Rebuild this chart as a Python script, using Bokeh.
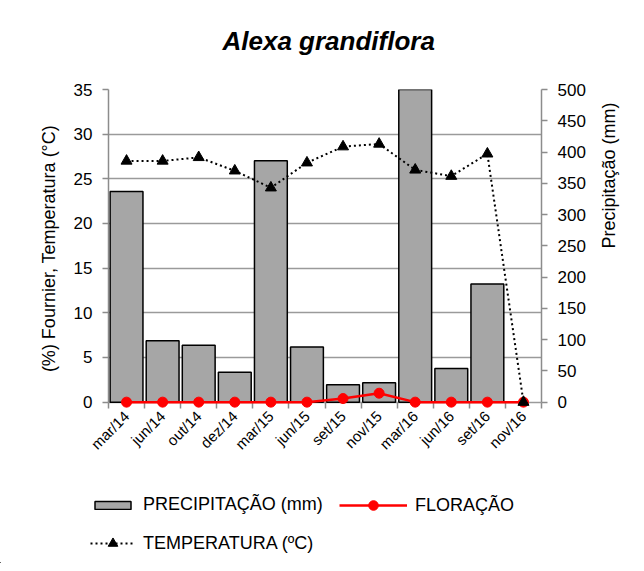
import math
from bokeh.plotting import figure
from bokeh.layouts import column
from bokeh.models import (ColumnDataSource, Range1d, LinearAxis, FixedTicker,
                          Legend, LegendItem, Title)
from bokeh.embed import file_html
from bokeh.resources import INLINE

# ---- data ----
categories = ["mar/14", "jun/14", "out/14", "dez/14", "mar/15", "jun/15",
              "set/15", "nov/15", "mar/16", "jun/16", "set/16", "nov/16"]
precip_mm = [337, 98, 91, 48, 386, 88, 28, 31, 520, 54, 189, float("nan")]
temperature_c = [27.0, 27.0, 27.4, 25.9, 24.0, 26.8, 28.6, 28.9, 26.0, 25.3, 27.8, 0.0]
floracao_pct = [0, 0, 0, 0, 0, 0, 0.4, 1.0, 0, 0, 0, 0]
left_ticks = [0, 5, 10, 15, 20, 25, 30, 35]
right_ticks = [0, 50, 100, 150, 200, 250, 300, 350, 400, 450, 500]

FONT = "Liberation Sans"
GRAY = "#8c8c8c"
GRID = "#9a9a9a"
BAR_FILL = "#a6a6a6"
RED = "#ff0000"

LEFT_MAX = 35
RIGHT_MAX = 500
PAD = 0.6  # small room below zero so markers on the baseline are not clipped

W = 636
H_MAIN = 480
H_LEG = 83

n = len(categories)
xs = list(range(n))
src = ColumnDataSource(dict(x=xs, precip=precip_mm, temp=temperature_c, flor=floracao_pct))

p = figure(width=W, height=H_MAIN, output_backend="svg", toolbar_location=None,
           x_range=Range1d(-0.5, n - 0.5), y_range=Range1d(-PAD, LEFT_MAX),
           min_border_left=108, min_border_right=95, min_border_top=89,
           min_border_bottom=H_MAIN - 407, title=None)
p.extra_y_ranges = {"precip": Range1d(-PAD * RIGHT_MAX / LEFT_MAX, RIGHT_MAX)}
p.outline_line_color = None
p.background_fill_color = "white"
p.border_fill_color = "white"

# title, lifted by a blank (white) spacer title between it and the frame
spacer = Title(text=".", text_font_size="2px", text_color="white", standoff=31)
p.add_layout(spacer, "above")
main_title = Title(text="Alexa grandiflora", text_font=FONT, text_font_size="26px",
                   text_font_style="bold italic", text_color="black",
                   align="left", offset=114, standoff=0)
p.add_layout(main_title, "above")

# x axis (its line is the zero grid line; ticks reach up to the zero line)
xa = p.xaxis[0]
xa.ticker = FixedTicker(ticks=xs, minor_ticks=[i - 0.5 for i in range(n + 1)])
xa.major_label_overrides = {i: c for i, c in enumerate(categories)}
xa.major_label_orientation = math.pi / 4
xa.major_tick_out = 0
xa.major_tick_in = 0
xa.minor_tick_out = 1
xa.minor_tick_in = 5
xa.minor_tick_line_color = GRAY
xa.minor_tick_line_width = 1.5
xa.axis_line_color = None
xa.major_label_text_font = FONT
xa.major_label_text_font_size = "15px"
xa.major_label_text_color = "black"
xa.major_label_standoff = 5

# left axis
ya = p.yaxis[0]
ya.ticker = FixedTicker(ticks=left_ticks)
ya.bounds = (0, LEFT_MAX)
ya.axis_label = "(%) Fournier, Temperatura (°C)"

ra = LinearAxis(y_range_name="precip", ticker=FixedTicker(ticks=right_ticks),
                axis_label="Precipitação (mm)", bounds=(0, RIGHT_MAX))
p.add_layout(ra, "right")

for ax in (ya, ra):
    ax.major_tick_out = 6
    ax.major_tick_in = 0
    ax.minor_tick_line_color = None
    ax.axis_line_color = GRAY
    ax.axis_line_width = 1.5
    ax.major_tick_line_color = GRAY
    ax.major_tick_line_width = 1.5
    ax.major_label_text_font = FONT
    ax.major_label_text_font_size = "17px"
    ax.major_label_text_color = "black"
    ax.major_label_standoff = 10
    ax.axis_label_text_font = FONT
    ax.axis_label_text_font_size = "18px"
    ax.axis_label_text_font_style = "normal"
    ax.axis_label_text_color = "black"
    ax.axis_label_standoff = 12
ra.axis_label_standoff = 20
ra.axis_label_orientation = math.pi / 2
ra.axis_label_text_align = "center"

p.xgrid.visible = False
p.ygrid.ticker = FixedTicker(ticks=left_ticks)
p.ygrid.grid_line_color = GRID
p.ygrid.grid_line_width = 1.5


def draw_series(fig, **kw):
    b = fig.vbar(x="x", top="precip", bottom=0, width=0.91, source=src,
                 fill_color=BAR_FILL, line_color="black", line_width=1.5, **kw)
    fl = fig.line("x", "flor", source=src, line_color=RED, line_width=2.5, level="overlay")
    fp = fig.scatter("x", "flor", source=src, size=10, color=RED, level="overlay")
    tl = fig.line("x", "temp", source=src, line_color="black", line_width=2,
                  line_dash="2 3", level="overlay")
    tp = fig.scatter("x", "temp", source=src, marker="triangle", size=11,
                     color="black", level="overlay")
    return b, fl, fp, tl, tp


draw_series(p, y_range_name="precip")

# ---- legend strip below the chart (its glyphs sit outside its visible ranges) ----
p2 = figure(width=W, height=H_LEG, output_backend="svg", toolbar_location=None,
            x_range=Range1d(1000, 1001), y_range=Range1d(1000, 1001),
            x_axis_location=None, y_axis_location=None,
            min_border_left=0, min_border_right=0, min_border_top=0, min_border_bottom=0)
p2.grid.visible = False
p2.outline_line_color = None
p2.background_fill_color = "white"
p2.border_fill_color = "white"
try:
    p2.frame_align = False
    x0 = 0
except AttributeError:
    x0 = 108

lb, lfl, lfp, ltl, ltp = draw_series(p2)

common = dict(orientation="horizontal", label_height=20,
              padding=0, margin=0, border_line_color=None, background_fill_alpha=0,
              label_text_font=FONT, label_text_font_size="18px",
              label_text_color="black", label_standoff=8)


def leg_y(center_page_y, item_h):
    # legend location is its bottom edge, measured up from the strip's bottom
    return H_LEG - (center_page_y - H_MAIN) - item_h / 2


legA = Legend(items=[LegendItem(label="PRECIPITAÇÃO (mm)", renderers=[lb])],
              location=(90 - x0, leg_y(505, 20)), glyph_width=45, glyph_height=10, **common)
legB = Legend(items=[LegendItem(label="FLORAÇÃO", renderers=[lfl, lfp])],
              location=(339 - x0, leg_y(505, 24)), glyph_width=68, glyph_height=24, **common)
legC = Legend(items=[LegendItem(label="TEMPERATURA (ºC)", renderers=[ltl, ltp])],
              location=(90 - x0, leg_y(543, 24)), glyph_width=45, glyph_height=24, **common)
for lg in (legA, legB, legC):
    p2.add_layout(lg, "center")

open("out.html", "w").write(file_html(column(p, p2), INLINE))
